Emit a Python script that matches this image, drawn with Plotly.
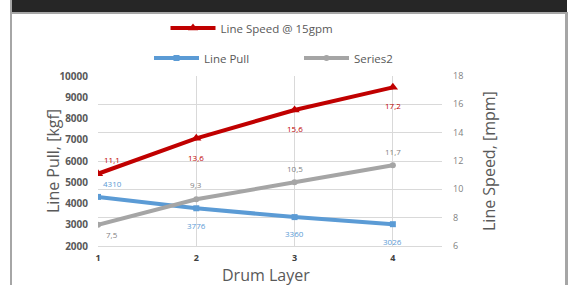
import plotly.graph_objects as go

# ---- data ----
layers = [1, 2, 3, 4]
line_pull = [4310, 3776, 3360, 3026]          # kgf, left axis
line_speed = [11.1, 13.6, 15.6, 17.2]         # mpm, right axis
series2 = [7.5, 9.3, 10.5, 11.7]              # right axis
left_ticks = [2000, 3000, 4000, 5000, 6000, 7000, 8000, 9000, 10000]
right_ticks = [6, 8, 10, 12, 14, 16, 18]

RED = "#C00000"
BLUE = "#5B9BD5"
GRAY = "#A5A5A5"
FONT = "Open Sans"

def fmt_dec(v):
    return f"{v:.1f}".replace(".", ",")

fig = go.Figure()
fig.add_trace(go.Scatter(
    x=layers, y=line_speed, name="Line Speed @ 15gpm", yaxis="y2",
    mode="lines+markers", line=dict(color=RED, width=4),
    marker=dict(symbol="triangle-up", size=9, color=RED), legend="legend",
    showlegend=True))
fig.add_trace(go.Scatter(
    x=layers, y=line_pull, name="Line Pull", yaxis="y",
    mode="lines+markers", line=dict(color=BLUE, width=4),
    marker=dict(symbol="square", size=6, color=BLUE), legend="legend2",
    showlegend=True))
fig.add_trace(go.Scatter(
    x=layers, y=series2, name="Series2", yaxis="y2",
    mode="lines+markers", line=dict(color=GRAY, width=4),
    marker=dict(symbol="circle", size=6, color=GRAY), legend="legend2",
    showlegend=True))

# data labels (offsets are styling)
annos = []
red_shift = [(14, 14), (0, -19), (0, -18), (0, -18)]
blue_shift = [(14, 13), (0, -17), (0, -16), (0, -17)]
gray_shift = [(14, -10), (0, 15), (0, 14), (0, 14)]
for i, x in enumerate(layers):
    annos.append(dict(x=x, y=line_speed[i], xref="x", yref="y2", text=fmt_dec(line_speed[i]),
                      showarrow=False, xshift=red_shift[i][0], yshift=red_shift[i][1],
                      font=dict(family=FONT, size=8, color=RED)))
    annos.append(dict(x=x, y=line_pull[i], xref="x", yref="y", text=str(line_pull[i]),
                      showarrow=False, xshift=blue_shift[i][0], yshift=blue_shift[i][1],
                      font=dict(family=FONT, size=8, color=BLUE)))
    annos.append(dict(x=x, y=series2[i], xref="x", yref="y2", text=fmt_dec(series2[i]),
                      showarrow=False, xshift=gray_shift[i][0], yshift=gray_shift[i][1],
                      font=dict(family=FONT, size=8, color="#7F7F7F")))

# frame geometry (pixels)
L, R, T, B = 98, 442, 76, 246
W, H = R - L, B - T
def px(xp):
    return (xp - L) / W
def py(yp):
    return (B - yp) / H

# axis titles
annos.append(dict(text="Line Pull, [kgf]", xref="paper", yref="paper", x=px(40), y=0.5,
                  textangle=-90, showarrow=False, font=dict(family=FONT, size=16, color="#595959")))
annos.append(dict(text="Line Speed, [mpm]", xref="paper", yref="paper", x=px(502), y=0.5,
                  textangle=-90, showarrow=False, font=dict(family=FONT, size=16, color="#595959")))
annos.append(dict(text="Drum Layer", xref="paper", yref="paper", x=px(266), y=py(274.5),
                  yanchor="middle", showarrow=False, font=dict(family=FONT, size=16, color="#595959")))

shapes = [
    dict(type="rect", xref="paper", yref="paper", x0=px(12), x1=px(567), y0=py(12), y1=py(-4),
         fillcolor="#262626", line=dict(width=0), layer="below"),
    dict(type="rect", xref="paper", yref="paper", x0=px(12), x1=px(567), y0=py(14), y1=py(12),
         fillcolor="#A6A6A6", line=dict(width=0), layer="below"),
    dict(type="rect", xref="paper", yref="paper", x0=px(10), x1=px(12), y0=py(290), y1=py(-4),
         fillcolor="#A6A6A6", line=dict(width=0), layer="below"),
    dict(type="rect", xref="paper", yref="paper", x0=px(565), x1=px(568), y0=py(290), y1=py(12),
         fillcolor="#A6A6A6", line=dict(width=0), layer="below"),
]

fig.update_layout(
    width=570, height=285,
    margin=dict(l=L, r=570 - R, t=T, b=285 - B, pad=0),
    paper_bgcolor="white", plot_bgcolor="white",
    showlegend=True,
    font=dict(family=FONT, color="#595959"),
    xaxis=dict(range=[1, 4.5], tickvals=layers, ticktext=[str(v) for v in layers],
               showgrid=True, gridcolor="#D9D9D9", gridwidth=1, zeroline=False,
               showline=True, linecolor="#D9D9D9", linewidth=1,
               ticks="", tickfont=dict(family=FONT, size=9, color="#404040", weight="bold"),
               ticklabelstandoff=3),
    yaxis=dict(range=[2000, 10000], tickvals=left_ticks, tickformat="d",
               showgrid=False, zeroline=False, showline=False, ticks="",
               tickfont=dict(family=FONT, size=10, color="#595959", weight="bold"),
               ticklabelstandoff=9),
    yaxis2=dict(range=[6, 18], tickvals=right_ticks, overlaying="y", side="right",
                showgrid=True, gridcolor="#D9D9D9", gridwidth=1, zeroline=False,
                showline=False, ticks="",
                tickfont=dict(family=FONT, size=9, color="#7F7F7F"),
                ticklabelstandoff=10),
    legend=dict(x=px(252), y=py(28), xanchor="center", yanchor="middle",
                orientation="h", bgcolor="rgba(0,0,0,0)", visible=True, itemwidth=45,
                font=dict(family=FONT, size=11.5, color="#595959")),
    legend2=dict(x=px(149), y=py(58), xanchor="left", yanchor="middle",
                 orientation="h", bgcolor="rgba(0,0,0,0)", entrywidth=90, visible=True,
                 itemwidth=45,
                 font=dict(family=FONT, size=11.5, color="#595959")),
    annotations=annos,
    shapes=shapes,
)

fig.write_html("out.html", config={"displayModeBar": False},
               post_script="document.body.style.margin='0';document.body.style.overflow='hidden';window.dispatchEvent(new Event('resize'));")
